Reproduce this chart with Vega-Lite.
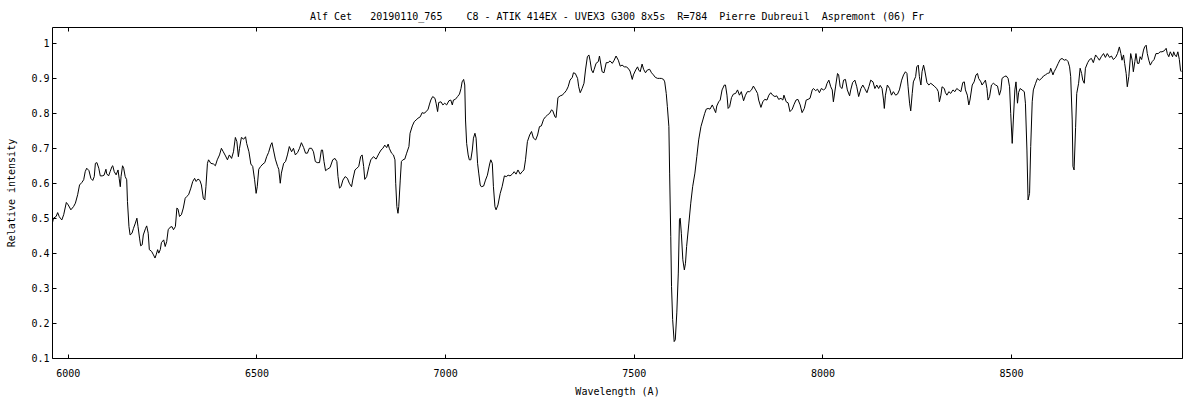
{
  "$schema": "https://vega.github.io/schema/vega-lite/v6.json",
  "autosize": "none",
  "width": 1130,
  "height": 331,
  "padding": {"left": 52, "top": 27, "right": 18, "bottom": 42},
  "background": "white",
  "title": {"text": "Alf Cet\u00a0\u00a0\u00a020190110_765\u00a0\u00a0\u00a0\u00a0C8 - ATIK 414EX - UVEX3 G300 8x5s\u00a0\u00a0R=784\u00a0\u00a0Pierre Dubreuil\u00a0\u00a0Aspremont (06) Fr"},
  "datasets": {
    "spec": [
      {"w":5959,"i":0.486},{"w":5962,"i":0.50},{"w":5969,"i":0.505},{"w":5973,"i":0.516},{"w":5977,"i":0.505},{"w":5980,"i":0.50},{"w":5984,"i":0.495},{"w":5989,"i":0.51},{"w":5996,"i":0.545},{"w":6001,"i":0.538},{"w":6008,"i":0.524},{"w":6015,"i":0.533},{"w":6020,"i":0.543},{"w":6026,"i":0.567},{"w":6031,"i":0.595},{"w":6037,"i":0.602},{"w":6042,"i":0.61},{"w":6046,"i":0.633},{"w":6050,"i":0.643},{"w":6056,"i":0.636},{"w":6061,"i":0.614},{"w":6066,"i":0.608},{"w":6070,"i":0.619},{"w":6073,"i":0.657},{"w":6077,"i":0.659},{"w":6082,"i":0.643},{"w":6086,"i":0.621},{"w":6091,"i":0.621},{"w":6096,"i":0.623},{"w":6101,"i":0.64},{"w":6103,"i":0.627},{"w":6108,"i":0.621},{"w":6112,"i":0.633},{"w":6117,"i":0.648},{"w":6119,"i":0.65},{"w":6123,"i":0.633},{"w":6128,"i":0.624},{"w":6133,"i":0.638},{"w":6136,"i":0.614},{"w":6139,"i":0.59},{"w":6141,"i":0.619},{"w":6145,"i":0.65},{"w":6148,"i":0.643},{"w":6152,"i":0.619},{"w":6156,"i":0.61},{"w":6158,"i":0.548},{"w":6162,"i":0.476},{"w":6165,"i":0.452},{"w":6170,"i":0.457},{"w":6174,"i":0.471},{"w":6179,"i":0.486},{"w":6183,"i":0.50},{"w":6186,"i":0.476},{"w":6190,"i":0.443},{"w":6193,"i":0.421},{"w":6197,"i":0.424},{"w":6200,"i":0.452},{"w":6206,"i":0.471},{"w":6209,"i":0.478},{"w":6213,"i":0.457},{"w":6216,"i":0.41},{"w":6222,"i":0.405},{"w":6227,"i":0.395},{"w":6231,"i":0.386},{"w":6234,"i":0.395},{"w":6238,"i":0.41},{"w":6241,"i":0.40},{"w":6245,"i":0.41},{"w":6248,"i":0.43},{"w":6254,"i":0.438},{"w":6258,"i":0.419},{"w":6262,"i":0.433},{"w":6266,"i":0.467},{"w":6271,"i":0.474},{"w":6276,"i":0.476},{"w":6280,"i":0.467},{"w":6285,"i":0.476},{"w":6289,"i":0.529},{"w":6292,"i":0.526},{"w":6296,"i":0.505},{"w":6301,"i":0.51},{"w":6306,"i":0.529},{"w":6311,"i":0.557},{"w":6315,"i":0.562},{"w":6320,"i":0.567},{"w":6326,"i":0.586},{"w":6331,"i":0.605},{"w":6336,"i":0.614},{"w":6340,"i":0.605},{"w":6345,"i":0.612},{"w":6350,"i":0.608},{"w":6354,"i":0.595},{"w":6359,"i":0.557},{"w":6363,"i":0.552},{"w":6366,"i":0.59},{"w":6370,"i":0.657},{"w":6373,"i":0.667},{"w":6379,"i":0.657},{"w":6386,"i":0.655},{"w":6391,"i":0.65},{"w":6396,"i":0.667},{"w":6402,"i":0.681},{"w":6407,"i":0.70},{"w":6412,"i":0.69},{"w":6418,"i":0.678},{"w":6423,"i":0.667},{"w":6428,"i":0.681},{"w":6434,"i":0.671},{"w":6439,"i":0.69},{"w":6444,"i":0.731},{"w":6448,"i":0.719},{"w":6452,"i":0.676},{"w":6455,"i":0.70},{"w":6460,"i":0.731},{"w":6466,"i":0.726},{"w":6471,"i":0.733},{"w":6474,"i":0.714},{"w":6480,"i":0.69},{"w":6485,"i":0.655},{"w":6490,"i":0.648},{"w":6495,"i":0.61},{"w":6499,"i":0.571},{"w":6502,"i":0.59},{"w":6506,"i":0.64},{"w":6511,"i":0.648},{"w":6517,"i":0.655},{"w":6522,"i":0.659},{"w":6527,"i":0.676},{"w":6532,"i":0.688},{"w":6538,"i":0.71},{"w":6541,"i":0.716},{"w":6545,"i":0.695},{"w":6550,"i":0.669},{"w":6556,"i":0.648},{"w":6559,"i":0.64},{"w":6563,"i":0.60},{"w":6566,"i":0.629},{"w":6572,"i":0.657},{"w":6577,"i":0.662},{"w":6582,"i":0.681},{"w":6587,"i":0.705},{"w":6593,"i":0.69},{"w":6598,"i":0.70},{"w":6603,"i":0.681},{"w":6609,"i":0.688},{"w":6614,"i":0.70},{"w":6619,"i":0.716},{"w":6625,"i":0.702},{"w":6630,"i":0.686},{"w":6635,"i":0.686},{"w":6640,"i":0.70},{"w":6646,"i":0.70},{"w":6651,"i":0.69},{"w":6656,"i":0.662},{"w":6661,"i":0.659},{"w":6667,"i":0.659},{"w":6672,"i":0.695},{"w":6675,"i":0.695},{"w":6679,"i":0.662},{"w":6683,"i":0.636},{"w":6688,"i":0.64},{"w":6695,"i":0.645},
      {"w":6702,"i":0.667},{"w":6708,"i":0.671},{"w":6713,"i":0.662},{"w":6716,"i":0.619},{"w":6720,"i":0.586},{"w":6724,"i":0.59},{"w":6729,"i":0.609},{"w":6735,"i":0.619},{"w":6741,"i":0.614},{"w":6746,"i":0.60},{"w":6752,"i":0.59},{"w":6755,"i":0.609},{"w":6761,"i":0.638},{"w":6766,"i":0.643},{"w":6771,"i":0.648},{"w":6776,"i":0.676},{"w":6780,"i":0.681},{"w":6784,"i":0.648},{"w":6787,"i":0.611},{"w":6792,"i":0.619},{"w":6798,"i":0.648},{"w":6803,"i":0.667},{"w":6810,"i":0.676},{"w":6817,"i":0.669},{"w":6824,"i":0.684},{"w":6830,"i":0.695},{"w":6835,"i":0.70},{"w":6840,"i":0.709},{"w":6845,"i":0.702},{"w":6849,"i":0.712},{"w":6852,"i":0.70},{"w":6858,"i":0.686},{"w":6863,"i":0.681},{"w":6867,"i":0.667},{"w":6869,"i":0.60},{"w":6872,"i":0.533},{"w":6875,"i":0.514},{"w":6877,"i":0.533},{"w":6881,"i":0.609},{"w":6884,"i":0.662},{"w":6888,"i":0.667},{"w":6893,"i":0.669},{"w":6898,"i":0.686},{"w":6904,"i":0.705},{"w":6907,"i":0.743},{"w":6913,"i":0.764},{"w":6918,"i":0.776},{"w":6923,"i":0.781},{"w":6928,"i":0.786},{"w":6934,"i":0.79},{"w":6939,"i":0.802},{"w":6944,"i":0.80},{"w":6950,"i":0.805},{"w":6955,"i":0.812},{"w":6958,"i":0.824},{"w":6962,"i":0.838},{"w":6967,"i":0.848},{"w":6973,"i":0.843},{"w":6976,"i":0.829},{"w":6980,"i":0.805},{"w":6983,"i":0.831},{"w":6989,"i":0.833},{"w":6994,"i":0.824},{"w":6999,"i":0.829},{"w":7004,"i":0.824},{"w":7010,"i":0.836},{"w":7015,"i":0.838},{"w":7019,"i":0.824},{"w":7022,"i":0.838},{"w":7027,"i":0.84},{"w":7033,"i":0.848},{"w":7038,"i":0.855},{"w":7042,"i":0.871},{"w":7045,"i":0.89},{"w":7049,"i":0.897},{"w":7052,"i":0.881},{"w":7054,"i":0.781},{"w":7057,"i":0.714},{"w":7061,"i":0.681},{"w":7064,"i":0.667},{"w":7068,"i":0.667},{"w":7072,"i":0.695},{"w":7075,"i":0.729},{"w":7079,"i":0.743},{"w":7082,"i":0.729},{"w":7086,"i":0.657},{"w":7089,"i":0.629},{"w":7093,"i":0.595},{"w":7096,"i":0.59},{"w":7102,"i":0.592},{"w":7107,"i":0.609},{"w":7112,"i":0.623},{"w":7118,"i":0.655},{"w":7121,"i":0.667},{"w":7125,"i":0.657},{"w":7128,"i":0.59},{"w":7132,"i":0.533},{"w":7135,"i":0.524},{"w":7140,"i":0.538},{"w":7146,"i":0.571},{"w":7151,"i":0.59},{"w":7157,"i":0.621},{"w":7162,"i":0.619},{"w":7167,"i":0.623},{"w":7172,"i":0.621},{"w":7178,"i":0.626},{"w":7183,"i":0.633},{"w":7188,"i":0.626},{"w":7193,"i":0.638},{"w":7199,"i":0.626},{"w":7204,"i":0.633},{"w":7209,"i":0.638},{"w":7213,"i":0.667},{"w":7218,"i":0.719},{"w":7224,"i":0.738},{"w":7229,"i":0.748},{"w":7234,"i":0.729},{"w":7240,"i":0.724},{"w":7245,"i":0.738},{"w":7250,"i":0.762},{"w":7255,"i":0.764},{"w":7261,"i":0.783},{"w":7266,"i":0.79},{"w":7271,"i":0.795},{"w":7277,"i":0.80},{"w":7282,"i":0.81},{"w":7285,"i":0.808},{"w":7291,"i":0.79},{"w":7294,"i":0.788},{"w":7299,"i":0.845},{"w":7305,"i":0.85},{"w":7310,"i":0.852},{"w":7315,"i":0.857},{"w":7321,"i":0.865},{"w":7326,"i":0.876},{"w":7331,"i":0.895},{"w":7337,"i":0.903},{"w":7340,"i":0.916},{"w":7345,"i":0.914},{"w":7351,"i":0.90},{"w":7354,"i":0.876},{"w":7358,"i":0.859},{"w":7363,"i":0.871},{"w":7368,"i":0.886},{"w":7372,"i":0.924},{"w":7377,"i":0.962},{"w":7381,"i":0.967},{"w":7384,"i":0.952},{"w":7388,"i":0.924},{"w":7392,"i":0.916},{"w":7395,"i":0.926},{"w":7400,"i":0.943},{"w":7406,"i":0.948},{"w":7409,"i":0.964},
      {"w":7416,"i":0.919},{"w":7421,"i":0.916},{"w":7427,"i":0.945},{"w":7432,"i":0.945},{"w":7437,"i":0.95},{"w":7443,"i":0.943},{"w":7448,"i":0.952},{"w":7453,"i":0.964},{"w":7459,"i":0.952},{"w":7464,"i":0.935},{"w":7469,"i":0.938},{"w":7475,"i":0.933},{"w":7480,"i":0.933},{"w":7485,"i":0.929},{"w":7490,"i":0.921},{"w":7496,"i":0.897},{"w":7499,"i":0.91},{"w":7505,"i":0.924},{"w":7510,"i":0.933},{"w":7513,"i":0.924},{"w":7517,"i":0.919},{"w":7522,"i":0.941},{"w":7526,"i":0.926},{"w":7531,"i":0.916},{"w":7536,"i":0.924},{"w":7542,"i":0.926},{"w":7547,"i":0.916},{"w":7552,"i":0.91},{"w":7557,"i":0.903},{"w":7563,"i":0.90},{"w":7568,"i":0.90},{"w":7573,"i":0.90},{"w":7579,"i":0.897},{"w":7582,"i":0.89},{"w":7586,"i":0.857},{"w":7589,"i":0.819},{"w":7593,"i":0.762},{"w":7595,"i":0.629},{"w":7598,"i":0.448},{"w":7600,"i":0.305},{"w":7603,"i":0.21},{"w":7607,"i":0.147},{"w":7610,"i":0.152},{"w":7614,"i":0.229},{"w":7618,"i":0.343},{"w":7621,"i":0.495},{"w":7623,"i":0.50},{"w":7626,"i":0.457},{"w":7630,"i":0.381},{"w":7634,"i":0.352},{"w":7637,"i":0.371},{"w":7640,"i":0.419},{"w":7646,"i":0.486},{"w":7651,"i":0.543},{"w":7656,"i":0.59},{"w":7662,"i":0.629},{"w":7667,"i":0.676},{"w":7672,"i":0.724},{"w":7678,"i":0.762},{"w":7683,"i":0.781},{"w":7688,"i":0.80},{"w":7692,"i":0.812},{"w":7697,"i":0.814},{"w":7702,"i":0.812},{"w":7708,"i":0.824},{"w":7711,"i":0.817},{"w":7717,"i":0.802},{"w":7720,"i":0.821},{"w":7725,"i":0.833},{"w":7729,"i":0.838},{"w":7734,"i":0.867},{"w":7740,"i":0.881},{"w":7743,"i":0.881},{"w":7747,"i":0.852},{"w":7750,"i":0.814},{"w":7754,"i":0.819},{"w":7759,"i":0.845},{"w":7764,"i":0.855},{"w":7770,"i":0.857},{"w":7775,"i":0.867},{"w":7780,"i":0.852},{"w":7785,"i":0.862},{"w":7791,"i":0.836},{"w":7796,"i":0.852},{"w":7801,"i":0.862},{"w":7807,"i":0.862},{"w":7812,"i":0.867},{"w":7817,"i":0.878},{"w":7823,"i":0.867},{"w":7828,"i":0.857},{"w":7831,"i":0.838},{"w":7837,"i":0.817},{"w":7842,"i":0.833},{"w":7847,"i":0.84},{"w":7853,"i":0.838},{"w":7858,"i":0.852},{"w":7863,"i":0.859},{"w":7868,"i":0.852},{"w":7874,"i":0.848},{"w":7879,"i":0.85},{"w":7884,"i":0.84},{"w":7890,"i":0.843},{"w":7895,"i":0.838},{"w":7898,"i":0.852},{"w":7904,"i":0.833},{"w":7909,"i":0.83},{"w":7914,"i":0.805},{"w":7920,"i":0.812},{"w":7925,"i":0.826},{"w":7930,"i":0.838},{"w":7935,"i":0.84},{"w":7941,"i":0.824},{"w":7946,"i":0.802},{"w":7952,"i":0.814},{"w":7957,"i":0.838},{"w":7962,"i":0.84},{"w":7967,"i":0.843},{"w":7973,"i":0.867},{"w":7976,"i":0.871},{"w":7982,"i":0.865},{"w":7987,"i":0.869},{"w":7992,"i":0.859},{"w":7997,"i":0.871},{"w":8003,"i":0.867},{"w":8008,"i":0.871},{"w":8012,"i":0.885},{"w":8017,"i":0.895},{"w":8022,"i":0.876},{"w":8026,"i":0.867},{"w":8029,"i":0.833},{"w":8035,"i":0.878},{"w":8040,"i":0.914},{"w":8043,"i":0.91},{"w":8047,"i":0.876},{"w":8052,"i":0.871},{"w":8056,"i":0.895},{"w":8061,"i":0.897},{"w":8066,"i":0.867},{"w":8072,"i":0.85},{"w":8075,"i":0.867},{"w":8080,"i":0.888},{"w":8086,"i":0.895},{"w":8091,"i":0.876},{"w":8096,"i":0.848},{"w":8102,"i":0.871},{"w":8107,"i":0.881},{"w":8112,"i":0.871},{"w":8118,"i":0.859},{"w":8123,"i":0.876},{"w":8128,"i":0.895},{"w":8134,"i":0.89},{"w":8139,"i":0.871},{"w":8144,"i":0.881},{"w":8149,"i":0.871},
      {"w":8153,"i":0.88},{"w":8158,"i":0.871},{"w":8162,"i":0.838},{"w":8164,"i":0.814},{"w":8167,"i":0.852},{"w":8172,"i":0.881},{"w":8178,"i":0.871},{"w":8183,"i":0.852},{"w":8188,"i":0.862},{"w":8194,"i":0.852},{"w":8199,"i":0.855},{"w":8204,"i":0.867},{"w":8210,"i":0.895},{"w":8215,"i":0.91},{"w":8220,"i":0.919},{"w":8224,"i":0.914},{"w":8227,"i":0.876},{"w":8231,"i":0.829},{"w":8234,"i":0.807},{"w":8238,"i":0.857},{"w":8241,"i":0.89},{"w":8247,"i":0.905},{"w":8250,"i":0.933},{"w":8254,"i":0.938},{"w":8257,"i":0.905},{"w":8261,"i":0.881},{"w":8264,"i":0.919},{"w":8268,"i":0.938},{"w":8271,"i":0.924},{"w":8277,"i":0.888},{"w":8282,"i":0.881},{"w":8287,"i":0.886},{"w":8293,"i":0.881},{"w":8298,"i":0.876},{"w":8303,"i":0.871},{"w":8307,"i":0.862},{"w":8310,"i":0.833},{"w":8314,"i":0.852},{"w":8317,"i":0.876},{"w":8323,"i":0.871},{"w":8326,"i":0.859},{"w":8330,"i":0.852},{"w":8335,"i":0.862},{"w":8340,"i":0.857},{"w":8346,"i":0.867},{"w":8351,"i":0.862},{"w":8356,"i":0.871},{"w":8361,"i":0.867},{"w":8367,"i":0.862},{"w":8372,"i":0.888},{"w":8376,"i":0.89},{"w":8379,"i":0.867},{"w":8384,"i":0.852},{"w":8388,"i":0.824},{"w":8391,"i":0.838},{"w":8397,"i":0.881},{"w":8402,"i":0.89},{"w":8407,"i":0.91},{"w":8411,"i":0.914},{"w":8414,"i":0.90},{"w":8420,"i":0.89},{"w":8423,"i":0.881},{"w":8429,"i":0.89},{"w":8432,"i":0.895},{"w":8436,"i":0.871},{"w":8439,"i":0.838},{"w":8443,"i":0.848},{"w":8448,"i":0.881},{"w":8453,"i":0.886},{"w":8459,"i":0.881},{"w":8464,"i":0.878},{"w":8469,"i":0.852},{"w":8473,"i":0.867},{"w":8476,"i":0.90},{"w":8482,"i":0.905},{"w":8487,"i":0.907},{"w":8492,"i":0.90},{"w":8496,"i":0.876},{"w":8499,"i":0.80},{"w":8503,"i":0.714},{"w":8506,"i":0.781},{"w":8510,"i":0.867},{"w":8513,"i":0.89},{"w":8517,"i":0.829},{"w":8520,"i":0.86},{"w":8524,"i":0.871},{"w":8529,"i":0.867},{"w":8535,"i":0.862},{"w":8538,"i":0.829},{"w":8542,"i":0.695},{"w":8545,"i":0.552},{"w":8549,"i":0.571},{"w":8552,"i":0.705},{"w":8556,"i":0.833},{"w":8559,"i":0.867},{"w":8565,"i":0.886},{"w":8570,"i":0.90},{"w":8575,"i":0.895},{"w":8581,"i":0.90},{"w":8586,"i":0.907},{"w":8591,"i":0.91},{"w":8596,"i":0.914},{"w":8602,"i":0.916},{"w":8605,"i":0.929},{"w":8611,"i":0.91},{"w":8614,"i":0.919},{"w":8619,"i":0.929},{"w":8625,"i":0.943},{"w":8630,"i":0.954},{"w":8635,"i":0.957},{"w":8641,"i":0.952},{"w":8646,"i":0.954},{"w":8651,"i":0.948},{"w":8655,"i":0.933},{"w":8658,"i":0.905},{"w":8662,"i":0.781},{"w":8664,"i":0.648},{"w":8667,"i":0.638},{"w":8671,"i":0.76},{"w":8674,"i":0.857},{"w":8679,"i":0.886},{"w":8683,"i":0.929},{"w":8687,"i":0.914},{"w":8690,"i":0.895},{"w":8694,"i":0.886},{"w":8697,"i":0.929},{"w":8703,"i":0.945},{"w":8708,"i":0.954},{"w":8713,"i":0.957},{"w":8718,"i":0.945},{"w":8724,"i":0.967},{"w":8729,"i":0.96},{"w":8734,"i":0.952},{"w":8739,"i":0.962},{"w":8745,"i":0.971},{"w":8750,"i":0.96},{"w":8755,"i":0.971},{"w":8761,"i":0.96},{"w":8766,"i":0.964},{"w":8771,"i":0.954},{"w":8777,"i":0.96},{"w":8782,"i":0.971},{"w":8787,"i":0.99},{"w":8791,"i":0.971},{"w":8794,"i":0.952},{"w":8798,"i":0.967},{"w":8801,"i":0.943},{"w":8805,"i":0.914},{"w":8808,"i":0.876},{"w":8812,"i":0.905},{"w":8817,"i":0.971},{"w":8821,"i":0.952},{"w":8824,"i":0.919},{"w":8828,"i":0.948},{"w":8831,"i":0.971},{"w":8835,"i":0.943},{"w":8839,"i":0.943},{"w":8842,"i":0.962},{"w":8846,"i":0.954},{"w":8851,"i":0.981},{"w":8854,"i":0.99},{"w":8858,"i":0.995},{"w":8861,"i":0.971},{"w":8865,"i":0.952},{"w":8869,"i":0.938},{"w":8874,"i":0.948},{"w":8879,"i":0.954},{"w":8884,"i":0.971},{"w":8890,"i":0.971},{"w":8895,"i":0.976},{"w":8900,"i":0.976},{"w":8906,"i":0.979},{"w":8911,"i":0.986},{"w":8914,"i":0.971},{"w":8918,"i":0.962},{"w":8922,"i":0.976},{"w":8928,"i":0.962},{"w":8931,"i":0.976},{"w":8934,"i":0.967},{"w":8938,"i":0.962},{"w":8942,"i":0.976},{"w":8946,"i":0.954},{"w":8949,"i":0.924},{"w":8951,"i":0.919}
    ]
  },
  "data": {"name": "spec"},
  "layer": [
    {
      "mark": {"type": "line", "color": "black", "strokeWidth": 1},
      "encoding": {
        "x": {"field": "w", "type": "quantitative", "scale": {"domain": [5958, 8953], "nice": false, "zero": false},
              "axis": {"orient": "bottom", "values": [6000, 6500, 7000, 7500, 8000, 8500], "format": "d", "title": "Wavelength (A)", "labelPadding": 14, "titleX": 565, "titleY": 33, "titleBaseline": "middle", "titleAnchor": null}},
        "y": {"field": "i", "type": "quantitative", "scale": {"domain": [0.1, 1.047], "nice": false, "zero": false},
              "axis": {"orient": "left", "values": [0.1, 0.2, 0.3, 0.4, 0.5, 0.6, 0.7, 0.8, 0.9, 1], "format": "~g", "title": "Relative intensity", "labelPadding": 7, "titleX": -41, "titleY": 165.5, "titleBaseline": "middle"}}
      }
    },
    {
      "mark": {"type": "line", "color": "black", "opacity": 0},
      "encoding": {
        "x": {"field": "w", "type": "quantitative",
              "axis": {"orient": "top", "values": [6000, 6500, 7000, 7500, 8000, 8500], "labels": false, "title": null}},
        "y": {"field": "i", "type": "quantitative",
              "axis": {"orient": "right", "values": [0.1, 0.2, 0.3, 0.4, 0.5, 0.6, 0.7, 0.8, 0.9, 1], "labels": false, "title": null}}
      }
    }
  ],
  "resolve": {"axis": {"x": "independent", "y": "independent"}},
  "config": {
    "view": {"stroke": "black", "strokeWidth": 1},
    "axis": {"grid": false, "domain": false, "ticks": true, "tickColor": "black", "tickSize": -4, "tickWidth": 1,
             "labelFont": "DejaVu Sans Mono", "labelFontSize": 10, "labelColor": "black",
             "titleFont": "DejaVu Sans Mono", "titleFontSize": 10, "titleFontWeight": "normal", "titleColor": "black"},
    "title": {"font": "DejaVu Sans Mono", "fontSize": 10, "fontWeight": "normal", "color": "black", "anchor": "middle", "offset": 5}
  }
}
